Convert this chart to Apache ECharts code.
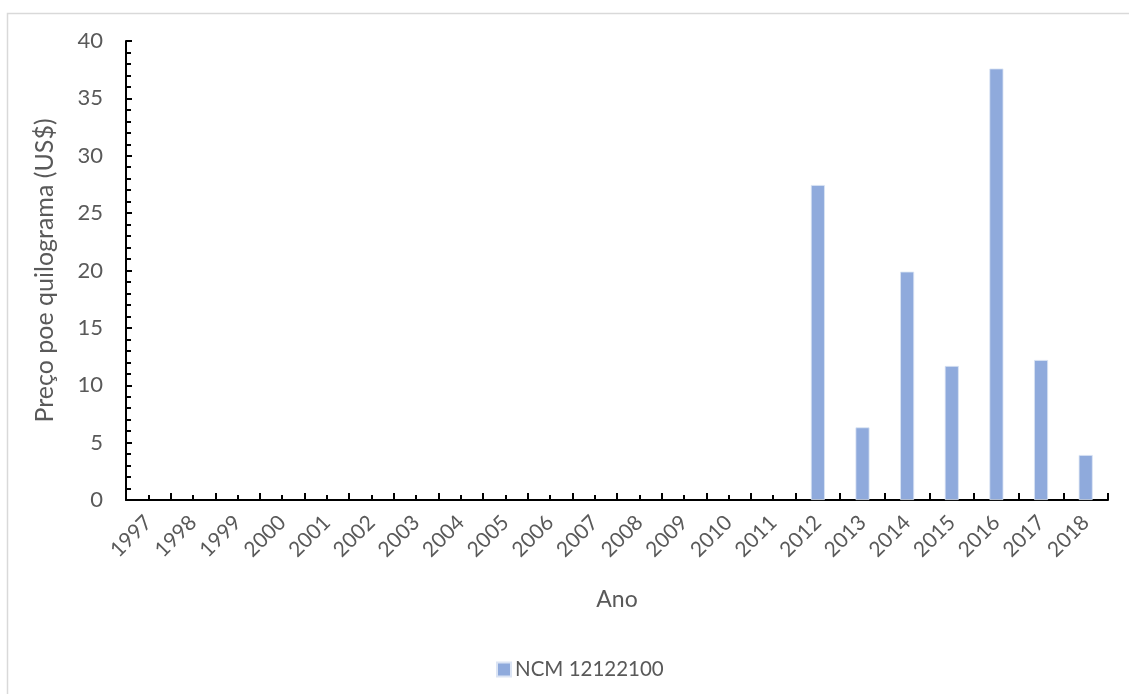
<!DOCTYPE html>
<html>
<head>
<meta charset="utf-8">
<script src="https://cdn.jsdelivr.net/npm/echarts@6/dist/echarts.min.js"></script>
<style>
  html, body { margin: 0; padding: 0; background: #fff; }
  #chart { width: 1129px; height: 694px; }
</style>
</head>
<body>
<div id="chart"></div>
<script>
// Anos da série
const anos = ['1997','1998','1999','2000','2001','2002','2003','2004','2005','2006','2007',
              '2008','2009','2010','2011','2012','2013','2014','2015','2016','2017','2018'];
// Preço por quilograma (US$) – NCM 12122100
const precos = [null,null,null,null,null,null,null,null,null,null,null,
                null,null,null,null,27.45,6.33,19.9,11.68,37.6,12.2,3.92];
const serieNome = 'NCM 12122100';
const yMin = 0, yMax = 40, yStep = 5;

const textColor = '#595959';
const fontFamily = 'Lato, "Open Sans", sans-serif';

const chart = echarts.init(document.getElementById('chart'), null, { renderer: 'canvas' });

chart.setOption({
  backgroundColor: '#ffffff',
  animation: false,
  textStyle: { fontFamily: fontFamily, color: textColor },
  graphic: [{
    type: 'rect',
    left: 5, top: 11,
    shape: { width: 1200, height: 800 },
    style: { fill: 'none', stroke: '#d9d9d9', lineWidth: 1.5 },
    silent: true, z: -10
  }],
  grid: { left: 126, right: 21, top: 41, bottom: 194, containLabel: false },
  legend: {
    data: [serieNome],
    top: 654,
    left: 491,
    itemWidth: 14, itemHeight: 14, itemGap: 5,
    icon: 'rect',
    textStyle: { fontSize: 20.5, color: textColor, fontFamily: fontFamily, padding: [0, 0, 0, -1] }
  },
  xAxis: [{
    type: 'category',
    data: anos,
    boundaryGap: true,
    name: 'Ano',
    nameLocation: 'middle',
    nameGap: 88,
    nameTextStyle: { fontSize: 23, color: textColor, fontFamily: fontFamily },
    axisLine: { show: true, lineStyle: { color: '#000', width: 2 } },
    axisTick: { show: true, inside: true, length: 7, alignWithLabel: false,
                lineStyle: { color: '#000', width: 2 } },
    axisLabel: { rotate: 45, margin: 19, fontSize: 21, color: textColor,
                 fontFamily: fontFamily, interval: 0 },
    splitLine: { show: false }
  }, {
    // ticks curtos no centro de cada ano
    type: 'category',
    data: anos,
    position: 'bottom',
    boundaryGap: true,
    axisLine: { show: false },
    axisTick: { show: true, inside: true, length: 5, alignWithLabel: true, interval: 0,
                lineStyle: { color: '#000', width: 2 } },
    axisLabel: { show: false },
    splitLine: { show: false }
  }],
  yAxis: {
    type: 'value',
    min: yMin, max: yMax, interval: yStep,
    name: 'Preço poe quilograma (US$)',
    nameLocation: 'middle',
    nameGap: 69,
    nameTextStyle: { fontSize: 25, color: textColor, fontFamily: fontFamily },
    axisLine: { show: true, lineStyle: { color: '#000', width: 2 } },
    axisTick: { show: true, inside: true, length: 6, lineStyle: { color: '#000', width: 2 } },
    minorTick: { show: true, splitNumber: 5, length: 5, lineStyle: { color: '#000', width: 2 } },
    axisLabel: { margin: 23, fontSize: 22, color: textColor, fontFamily: fontFamily },
    splitLine: { show: false }
  },
  series: [{
    name: serieNome,
    type: 'bar',
    data: precos,
    barWidth: 14,
    itemStyle: { color: '#8faadc', borderColor: '#dbe4f4', borderWidth: 0.8 }
  }]
});
</script>
</body>
</html>
